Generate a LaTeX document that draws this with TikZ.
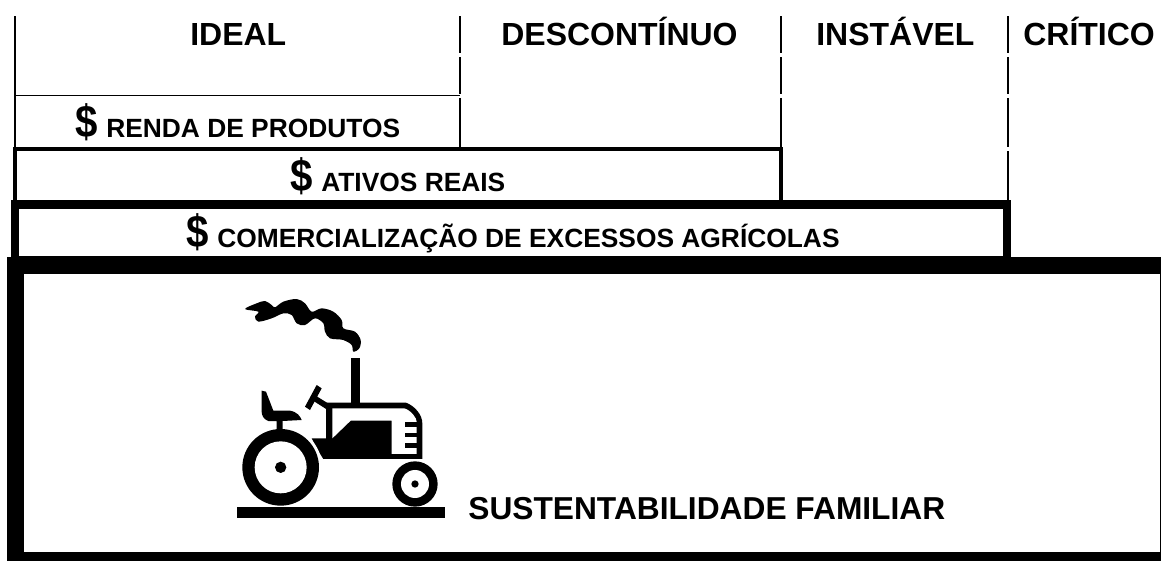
\documentclass[tikz,border=0pt]{standalone}
\usepackage{fontspec}
\setmainfont{Liberation Sans}
\usetikzlibrary{backgrounds}
\pgfdeclarelayer{edgelayer}
\pgfdeclarelayer{nodelayer}
\pgfsetlayers{edgelayer,main,nodelayer}
\tikzstyle{thinline}=[-,draw=black,line width=0.85pt]
\tikzstyle{midline}=[-,draw=black,line width=1.15pt]
\tikzstyle{ativosbox}=[draw=black,line width=2.2pt]
\tikzstyle{excessbox}=[draw=black,line width=4.8pt]
\tikzstyle{solid part}=[fill=black]
\tikzstyle{clear part}=[fill=white]
\tikzstyle{heading}=[inner sep=0pt,anchor=base west,font=\fontsize{18.2}{20}\selectfont\bfseries]
\tikzstyle{income}=[inner sep=0pt,anchor=base west,font=\fontsize{15}{16}\selectfont\bfseries]
\newcommand{\bigdollar}{\scalebox{0.88}[1]{\fontsize{26}{27}\selectfont\$}\hspace{4.9pt}}
\begin{document}
\begin{tikzpicture}[x=0.02cm,y=-0.02cm]
	\useasboundingbox (0,0) rectangle (1161,561);
	\begin{pgfonlayer}{nodelayer}
		\node [style=heading] (ideal) at (190,46) {IDEAL};
		\node [style=heading] (descontinuo) at (501,46) {DESCONTÍNUO};
		\node [style=heading] (instavel) at (816,46) {INSTÁVEL};
		\node [style=heading] (critico) at (1023,46) {CRÍTICO};
		\node [style=income] (renda) at (75,137) {\bigdollar RENDA DE PRODUTOS};
		\node [style=income] (ativos) at (290,191) {\bigdollar ATIVOS REAIS};
		\node [style=income] (excessos) at (186,247) {\bigdollar COMERCIALIZAÇÃO DE EXCESSOS AGRÍCOLAS};
		\node [style=heading,font=\fontsize{18.05}{20}\selectfont\bfseries] (familiar) at (468,519) {SUSTENTABILIDADE FAMILIAR};
	\end{pgfonlayer}
	\begin{pgfonlayer}{edgelayer}
		% column rules
		\draw [style=thinline] (15,16) to (15,148);
		\draw [style=thinline] (15,95.5) to (460,95.5);
		\foreach \x in {460,781} {
			\draw [style=thinline] (\x,16) to (\x,53);
			\draw [style=thinline] (\x,57) to (\x,94);
			\draw [style=thinline] (\x,98) to (\x,148);
		}
		\draw [style=midline] (1008,16) to (1008,53);
		\draw [style=midline] (1008,57) to (1008,94);
		\draw [style=midline] (1008,98) to (1008,147);
		\draw [style=midline] (1008,151) to (1008,201);
		% nested boxes
		\draw [style=ativosbox] (15,149) rectangle (781,204);
		\draw [style=excessbox] (15,204.5) rectangle (1007,260);
		\fill [style=solid part] (7,257) rectangle (1161,561);
		\fill [style=clear part] (24,274) rectangle (1160,552);
	\end{pgfonlayer}
	% tractor
	\begin{scope}[shift={(220,280)},scale=1/3]
		\fill [style=solid part] plot [smooth cycle,tension=0.55] coordinates {(75,87) (110,70) (135,63) (155,75) (165,82) (190,65) (230,57) (255,70) (275,95) (305,85) (340,95) (365,120) (370,145) (405,155) (422,180) (418,205) (400,215) (395,195) (370,180) (330,175) (315,155) (310,130) (285,115) (255,135) (230,130) (215,105) (190,100) (155,115) (115,125) (105,110) (115,95)};
		\fill [style=solid part] (392,233) rectangle (420,370);
		\fill [style=solid part] (318,368) -- (558,368) .. controls (585,378) and (607,405) .. (607,430) -- (607,537) -- (310,537) -- (290,505) -- (275,475) -- (318,475) -- cycle;
		\fill [style=clear part] (337,385) -- (553,385) .. controls (575,392) and (590,415) .. (590,425) -- (590,522) -- (515,522) -- (515,422) -- (392,422) -- (337,475) -- cycle;
		\fill [style=solid part] (555,425) rectangle (592,440);
		\fill [style=solid part] (555,458) rectangle (592,472);
		\fill [style=solid part] (555,490) rectangle (592,505);
		\fill [style=solid part] (290,315) -- (305,325) -- (270,390) -- (255,380) -- cycle;
		\fill [style=solid part] (284,345) -- (327,372) -- (320,388) -- (276,360) -- cycle;
		\fill [style=clear part] (182,562) circle [radius=124];
		\fill [style=solid part] (125,332) -- (138,335) -- (160,392) -- (210,392) .. controls (232,396) and (240,408) .. (245,420) -- (188,423) -- (188,460) -- (170,460) -- (170,423) -- (145,423) .. controls (130,418) and (125,405) .. (125,395) -- cycle;
		\fill [style=solid part] (182,562) circle [radius=115];
		\fill [style=clear part] (182,562) circle [radius=78];
		\fill [style=solid part] (182,562) circle [radius=17];
		\fill [style=solid part] (585,612) circle [radius=68];
		\fill [style=clear part] (585,612) circle [radius=42];
		\fill [style=solid part] (585,612) circle [radius=11];
		\fill [style=solid part] (50,680) rectangle (675,714);
	\end{scope}
\end{tikzpicture}
\end{document}
